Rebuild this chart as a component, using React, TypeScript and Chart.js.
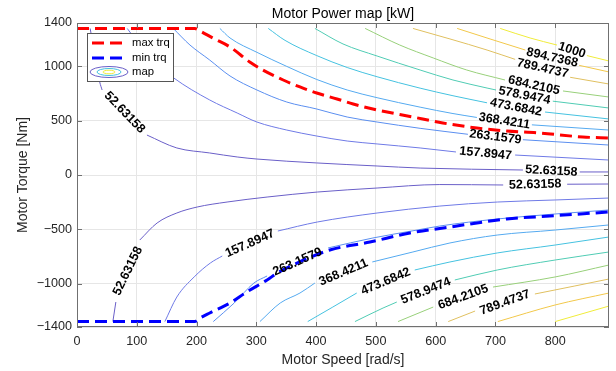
import React, { useEffect, useRef } from 'react';
import { Chart, registerables } from 'chart.js';

Chart.register(...registerables);

type Pt = [number, number] | null;

// ---------- data ----------
const levelLabels = ['52.63158', '157.8947', '263.1579', '368.4211', '473.6842', '578.9474', '684.2105', '789.4737', '894.7368', '1000'];
const levelColors = ['#6a5fc8', '#6f7ae6', '#5b8ff0', '#55aaf0', '#45c2e0', '#50ccb4', '#98d07a', '#e0c060', '#f2c84a', '#f0ec3a'];

const xTicks = [0, 100, 200, 300, 400, 500, 600, 700, 800];
const yTicks = [-1400, -1000, -500, 0, 500, 1000, 1400];

const maxTrqSpeed = [0, 197, 206, 227, 256, 289, 311, 345, 373, 401, 435, 462, 495, 562, 612, 669, 719, 774, 846, 890];
const maxTrqTorque = [1350, 1350, 1326, 1262, 1179, 1041, 967, 875, 811, 755, 700, 654, 608, 534, 479, 433, 405, 387, 350, 341];
const minTrqSpeed = [0, 197, 206, 222, 256, 284, 318, 335, 368, 423, 490, 557, 624, 719, 791, 890];
const minTrqTorque = [-1350, -1350, -1317, -1271, -1179, -1078, -967, -903, -811, -691, -617, -534, -479, -405, -378, -341];

// contour lines [speed rad/s, torque Nm]; null = gap holding the inline label
const mot1: Pt[] = [[22, 1350], [30, 1105], [38, 857], [42, 783], null, [117, 368], [167, 249], [222, 203], [268, 166], [301, 147], [401, 111], [502, 83], [574, 64], [746, 46], null, [841, 28], [890, 28]];
const mot2: Pt[] = [[84, 1350], [105, 1197], [130, 1041], [162, 893], [222, 691], [268, 571], [301, 488], [351, 414], [401, 359], [452, 313], [502, 286], [574, 249], [634, 212], null, [733, 184], [890, 138]];
const mot3: Pt[] = [[161, 1350], [189, 1197], [222, 1059], [256, 912], [301, 783], [351, 672], [401, 608], [452, 534], [502, 488], [574, 430], [654, 375], null, [746, 325], [890, 276]];
const mot4: Pt[] = [[239, 1350], [256, 1262], [301, 1130], [351, 1000], [401, 880], [452, 783], [502, 712], [574, 625], [629, 566], [669, 530], null, [761, 462], [890, 414]];
const mot5: Pt[] = [[320, 1350], [348, 1240], [401, 1100], [452, 990], [502, 905], [574, 800], [629, 730], [686, 665], null, [783, 580], [890, 516]];
const mot6: Pt[] = [[398, 1350], [445, 1207], [502, 1096], [574, 967], [629, 875], [686, 801], [701, 783], null, [796, 680], [890, 617]];
const mot7: Pt[] = [[482, 1350], [540, 1197], [596, 1078], [652, 967], [716, 875], null, [813, 774], [890, 718]];
const mot8: Pt[] = [[562, 1350], [624, 1253], [686, 1151], [733, 1065], null, [825, 900], [890, 838]];
const mot9: Pt[] = [[636, 1350], [691, 1253], [750, 1151], null, [840, 1010], [890, 949]];
const mot10: Pt[] = [[708, 1350], [758, 1262], [803, 1197], null, [853, 1100], [890, 1050]];

const gen1: Pt[] = [[60, -1350], [65, -1170], null, [105, -599], [134, -442], [167, -350], [201, -295], [251, -249], [318, -203], [402, -157], [502, -120], [607, -88], [713, -92], null, [820, -85], [890, -83]];
const gen2: Pt[] = [[147, -1350], [167, -1124], [196, -939], [223, -811], [243, -746], null, [336, -516], [402, -433], [502, -350], [607, -286], [703, -249], [800, -230], [890, -212]];
const gen3: Pt[] = [[228, -1350], [263, -1179], [296, -995], [318, -930], null, [420, -672], [495, -580], [569, -507], [607, -470], [703, -405], [800, -359], [890, -322]];
const gen4: Pt[] = [[306, -1350], [340, -1179], [373, -1087], [398, -995], null, [494, -801], [562, -709], [624, -626], [703, -553], [800, -507], [890, -460]];
const gen5: Pt[] = [[386, -1350], [428, -1216], [468, -1087], null, [565, -875], [624, -801], [703, -718], [800, -645], [890, -571]];
const gen6: Pt[] = [[465, -1350], [512, -1225], [535, -1170], null, [632, -967], [703, -875], [800, -783], [890, -709]];
const gen7: Pt[] = [[537, -1350], [596, -1216], null, [696, -1032], [800, -939], [890, -829]];
const gen8: Pt[] = [[621, -1350], [666, -1253], null, [766, -1096], [833, -1022], [890, -958]];
const gen9: Pt[] = [[704, -1350], [800, -1197], [890, -1087]];
const gen10: Pt[] = [[800, -1350], [890, -1207]];

const motoring = [mot1, mot2, mot3, mot4, mot5, mot6, mot7, mot8, mot9, mot10];
const generating = [gen1, gen2, gen3, gen4, gen5, gen6, gen7, gen8, gen9, gen10];

// ---------- styling ----------
// inline label rotation (degrees on screen), one per gap of each contour line
const motLabelRot = [[46, 3], [5.5], [7], [9], [11], [11], [12.7], [12.7], [12.7], [17.7]];
const genLabelRot = [[-64, -1.5], [-24], [-24], [-23], [-23], [-22], [-20], [-20], [], []];

const FONT = '"Liberation Sans", Arial, Helvetica, sans-serif';
const AXIS = '#707070';
const TXT = '#262626';

const fmt = (v: number) => (v < 0 ? '\u2212' + Math.abs(v) : String(v));

const overlay = {
  id: 'overlay',
  afterDatasetsDraw(chart: any) {
    const ctx = chart.ctx;
    const xs = chart.scales.x;
    const ys = chart.scales.y;
    ctx.save();
    ctx.font = `bold 12.6px ${FONT}`;
    ctx.fillStyle = '#000';
    ctx.textAlign = 'center';
    ctx.textBaseline = 'middle';
    chart.data.datasets.forEach((ds: any) => {
      if (!ds.labelText) return;
      const d = ds.data;
      let g = 0;
      for (let i = 1; i < d.length - 1; i++) {
        if (d[i].y === null && d[i - 1].y !== null && d[i + 1].y !== null) {
          const x1 = xs.getPixelForValue(d[i - 1].x);
          const y1 = ys.getPixelForValue(d[i - 1].y);
          const x2 = xs.getPixelForValue(d[i + 1].x);
          const y2 = ys.getPixelForValue(d[i + 1].y);
          let ang = Math.atan2(y2 - y1, x2 - x1);
          if (ds.labelRot && ds.labelRot[g] !== undefined) ang = (ds.labelRot[g] * Math.PI) / 180;
          g++;
          ctx.save();
          ctx.translate((x1 + x2) / 2, (y1 + y2) / 2);
          ctx.rotate(ang);
          ctx.fillText(ds.labelText, 0, 0);
          ctx.restore();
        }
      }
    });
    ctx.restore();
  },
  afterDraw(chart: any) {
    const ctx = chart.ctx;
    const a = chart.chartArea;
    const xs = chart.scales.x;
    const ys = chart.scales.y;
    ctx.save();
    ctx.strokeStyle = AXIS;
    ctx.lineWidth = 1;
    ctx.setLineDash([]);
    ctx.strokeRect(a.left + 0.5, a.top + 0.5, a.right - a.left - 1, a.bottom - a.top - 1);
    const seg = (x1: number, y1: number, x2: number, y2: number) => {
      ctx.beginPath();
      ctx.moveTo(x1, y1);
      ctx.lineTo(x2, y2);
      ctx.stroke();
    };
    xTicks.forEach((v) => {
      const px = Math.round(xs.getPixelForValue(v)) + 0.5;
      seg(px, a.top, px, a.top + 5);
      seg(px, a.bottom, px, a.bottom - 5);
    });
    yTicks.forEach((v) => {
      const py = Math.round(ys.getPixelForValue(v)) + 0.5;
      seg(a.left, py, a.left + 5, py);
      seg(a.right, py, a.right - 5, py);
    });
    const cx = (a.left + a.right) / 2;
    ctx.fillStyle = '#000';
    ctx.textAlign = 'center';
    ctx.textBaseline = 'alphabetic';
    ctx.font = `14px ${FONT}`;
    ctx.fillText('Motor Power map [kW]', cx, 17.5);
    ctx.fillStyle = TXT;
    ctx.fillText('Motor Speed [rad/s]', cx, 363.5);
    ctx.save();
    ctx.translate(27, (a.top + a.bottom) / 2);
    ctx.rotate(-Math.PI / 2);
    ctx.fillText('Motor Torque [Nm]', 0, 0);
    ctx.restore();
    // legend
    const lx = 87.5, ly = 33.5, lw = 86, lh = 48;
    ctx.fillStyle = '#ffffff';
    ctx.fillRect(lx, ly, lw, lh);
    ctx.strokeStyle = '#555555';
    ctx.lineWidth = 1;
    ctx.strokeRect(lx, ly, lw, lh);
    ctx.lineWidth = 3;
    ctx.setLineDash([12, 6]);
    ctx.strokeStyle = '#ff0000';
    seg(92, 43, 124, 43);
    ctx.strokeStyle = '#0000ff';
    seg(92, 58, 124, 58);
    ctx.setLineDash([]);
    ctx.lineWidth = 1;
    const ell = (rx: number, ry: number, col: string) => {
      ctx.strokeStyle = col;
      ctx.beginPath();
      ctx.ellipse(109, 72, rx, ry, 0, 0, Math.PI * 2);
      ctx.stroke();
    };
    ell(19, 5.5, levelColors[0]);
    ell(12, 3.5, levelColors[4]);
    ell(6, 1.8, levelColors[9]);
    ctx.fillStyle = '#000';
    ctx.textAlign = 'left';
    ctx.textBaseline = 'middle';
    ctx.font = `11.3px ${FONT}`;
    ctx.fillText('max trq', 132, 43);
    ctx.fillText('min trq', 132, 58);
    ctx.fillText('map', 132, 72);
    ctx.restore();
  },
};

const toData = (pts: Pt[]) => pts.map((p) => (p ? { x: p[0], y: p[1] } : { x: null, y: null }));

export default function App() {
  const ref = useRef<HTMLCanvasElement | null>(null);
  useEffect(() => {
    if (!ref.current) return;
    const contourSets: any[] = [];
    motoring.forEach((pts, i) => contourSets.push({ pts, lvl: i, rot: motLabelRot[i] }));
    generating.forEach((pts, i) => contourSets.push({ pts, lvl: i, rot: genLabelRot[i] }));
    const datasets: any[] = [
      {
        label: 'max trq',
        data: maxTrqSpeed.map((s, i) => ({ x: s, y: maxTrqTorque[i] })),
        borderColor: '#ff0000',
        borderWidth: 3,
        borderDash: [12, 6],
        showLine: true,
        pointRadius: 0,
        cubicInterpolationMode: 'monotone',
        order: 0,
      },
      {
        label: 'min trq',
        data: minTrqSpeed.map((s, i) => ({ x: s, y: minTrqTorque[i] })),
        borderColor: '#0000ff',
        borderWidth: 3,
        borderDash: [12, 6],
        showLine: true,
        pointRadius: 0,
        cubicInterpolationMode: 'monotone',
        order: 0,
      },
      ...contourSets.map((c) => ({
        label: 'map',
        data: toData(c.pts),
        borderColor: levelColors[c.lvl],
        borderWidth: 1,
        showLine: true,
        pointRadius: 0,
        spanGaps: false,
        cubicInterpolationMode: 'monotone',
        order: 1,
        labelText: levelLabels[c.lvl],
        labelRot: c.rot,
      })),
    ];
    const chart = new Chart(ref.current, {
      type: 'scatter',
      data: { datasets },
      options: {
        animation: false,
        responsive: false,
        devicePixelRatio: 1,
        events: [],
        layout: { padding: { left: 0, right: 7, top: 23, bottom: 0 } },
        plugins: { legend: { display: false }, tooltip: { enabled: false }, title: { display: false } },
        scales: {
          x: {
            type: 'linear',
            min: 0,
            max: 890,
            afterBuildTicks: (axis: any) => {
              axis.ticks = xTicks.map((v) => ({ value: v }));
            },
            afterFit: (axis: any) => {
              axis.height = 44;
            },
            grid: { color: '#e6e6e6', drawTicks: false },
            border: { display: false },
            ticks: {
              autoSkip: false,
              maxRotation: 0,
              padding: 7,
              color: TXT,
              font: { family: FONT, size: 12.6 },
              callback: (v: any) => fmt(Number(v)),
            },
          },
          y: {
            type: 'linear',
            min: -1400,
            max: 1400,
            afterBuildTicks: (axis: any) => {
              axis.ticks = yTicks.map((v) => ({ value: v }));
            },
            afterFit: (axis: any) => {
              axis.width = 77;
            },
            grid: { color: '#e6e6e6', drawTicks: false },
            border: { display: false },
            ticks: {
              autoSkip: false,
              padding: 5,
              color: TXT,
              font: { family: FONT, size: 12.6 },
              callback: (v: any) => fmt(Number(v)),
            },
          },
        },
      } as any,
      plugins: [overlay],
    });
    return () => chart.destroy();
  }, []);
  return (
    <div style={{ position: 'fixed', left: 0, top: 0, width: 616, height: 371, background: '#fff' }}>
      <canvas ref={ref} width={616} height={371} style={{ display: 'block' }} />
    </div>
  );
}
